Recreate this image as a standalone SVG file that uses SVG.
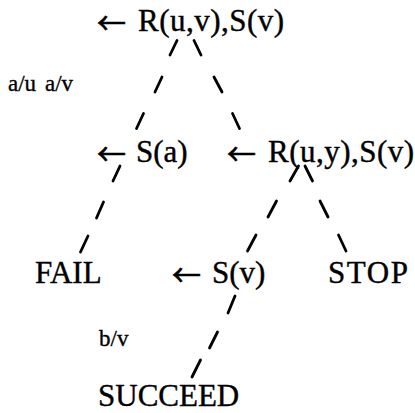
<svg xmlns="http://www.w3.org/2000/svg" width="415" height="413" viewBox="0 0 415 413">
<style>
.t{font-family:"Liberation Serif","Times New Roman",serif;font-size:31px;fill:#000;stroke:#000;stroke-width:0.4}
.a{font-family:"Noto Sans CJK JP","DejaVu Sans",sans-serif;font-size:30px;fill:#000;stroke:#000;stroke-width:0.6}
.s{font-family:"Liberation Serif","Times New Roman",serif;font-size:23px;fill:#000;stroke:#000;stroke-width:0.35}
.d{stroke:#000;stroke-width:2.8;stroke-linecap:round;fill:none}
</style>
<rect width="415" height="413" fill="#fff"/>
<g id="connectors" class="d">
<path d="M177,40.5L170,55M162,77L155,92M143.5,113.5L136.5,128.5"/>
<path d="M194,40.5L201,55M214,77L222,92M232.5,113.5L239.5,128.5"/>
<path d="M120,166L113,181M103.5,202L96.5,218M88,236L80.5,252"/>
<path d="M298.5,166L290,181M276.5,201L268,217M256,235L247.5,251"/>
<path d="M305,166L312.5,181M320,201L328,217M338.5,235L346,251"/>
<path d="M235,296L228,313M217.5,332L209.5,348M200.5,360L192,377"/>
</g>
<g id="n-root"><text class="a" x="97" y="34" textLength="29" lengthAdjust="spacingAndGlyphs">←</text><text class="t" x="138" y="31" textLength="146">R(u,v),S(v)</text></g>
<g id="n-sa"><text class="a" x="97" y="165" textLength="29" lengthAdjust="spacingAndGlyphs">←</text><text class="t" x="136" y="162">S(a)</text></g>
<g id="n-ruy"><text class="a" x="227" y="165" textLength="29" lengthAdjust="spacingAndGlyphs">←</text><text class="t" x="268" y="162" textLength="146">R(u,y),S(v)</text></g>
<g id="n-fail"><text class="t" x="35" y="283">FAIL</text></g>
<g id="n-sv"><text class="a" x="172" y="286" textLength="29" lengthAdjust="spacingAndGlyphs">←</text><text class="t" x="212" y="283">S(v)</text></g>
<g id="n-stop"><text class="t" x="328" y="283" textLength="80">STOP</text></g>
<g id="n-succeed"><text class="t" x="98" y="406">SUCCEED</text></g>
<g id="labels">
<text class="s" x="8" y="91">a/u</text>
<text class="s" x="45" y="91">a/v</text>
<text class="s" x="99" y="346">b/v</text>
</g>
</svg>
